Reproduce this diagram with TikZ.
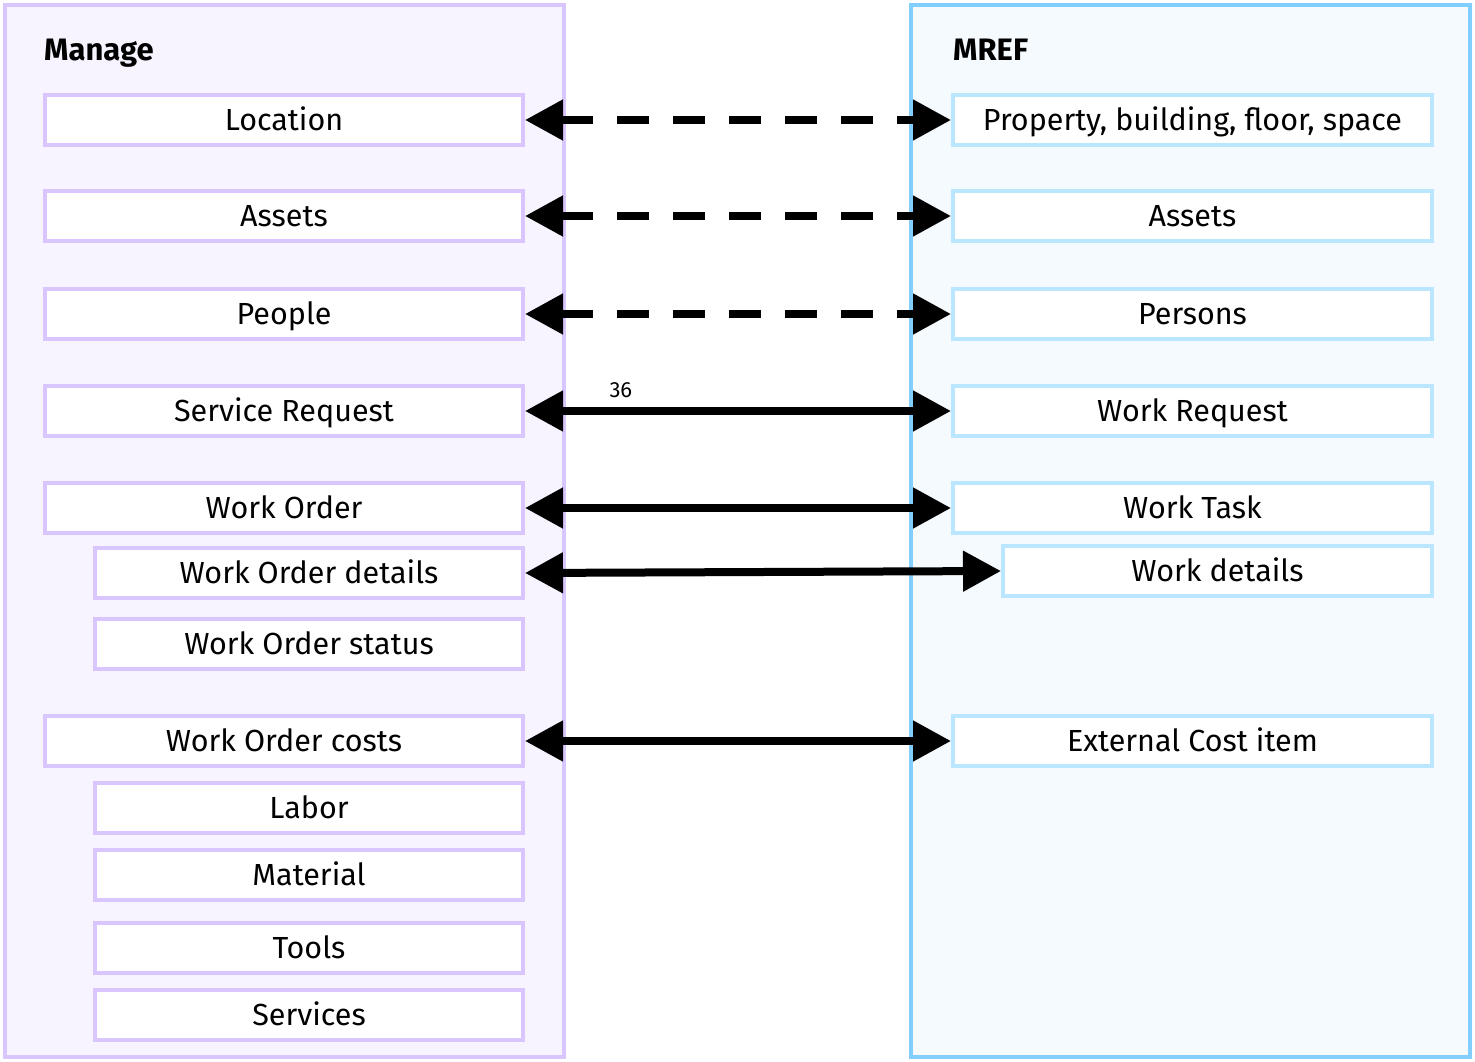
\documentclass[tikz,border=0pt]{standalone}
\usepackage{fontspec}
\setmainfont{Fira Sans}
\usetikzlibrary{arrows.meta}
\definecolor{mgline}{RGB}{218,198,255}
\definecolor{mgfill}{HTML}{F7F3FF}
\definecolor{mrline}{HTML}{82CFFF}
\definecolor{mrbox}{HTML}{BAE6FF}
\definecolor{mrfill}{HTML}{F5FAFF}
\tikzset{
  mbox/.style={draw=mgline,fill=white,line width=4pt,minimum height=50pt,inner sep=0pt,text height=21pt,text depth=0pt,font=\fontsize{30.5}{36}\selectfont},
  rbox/.style={mbox,draw=mrbox},
  link/.style={line width=8pt,{Triangle[length=38pt,width=39pt]}-{Triangle[length=38pt,width=39pt]}},
  dlink/.style={link,dash pattern=on 32pt off 24pt}
}
\begin{document}
\begin{tikzpicture}[x=1pt,y=-1pt]
                \useasboundingbox (0,0) rectangle (1475,1062);
                % panels
                \draw[draw=mgline,fill=mgfill,line width=4pt] (5,5) rectangle (564,1057);
                \draw[draw=mrline,fill=mrfill,line width=4pt] (911,5) rectangle (1470,1057);
                \node[anchor=base west,inner sep=0pt,font=\bfseries\fontsize{31}{36}\selectfont] (manage) at (44,61) {Manage};
                \node[anchor=base west,inner sep=0pt,font=\bfseries\fontsize{31}{36}\selectfont] (mref) at (953,61) {MREF};
                % Manage side
                \node[mbox,minimum width=478pt] (loc) at (284,120) {Location};
                \node[mbox,minimum width=478pt] (assets) at (284,216) {Assets};
                \node[mbox,minimum width=478pt] (people) at (284,314) {People};
                \node[mbox,minimum width=478pt] (sreq) at (284,411) {Service Request};
                \node[mbox,minimum width=478pt] (wo) at (284,508) {Work Order};
                \node[mbox,minimum width=428pt] (wod) at (309,573) {Work Order details};
                \node[mbox,minimum width=428pt] (wos) at (309,644) {Work Order status};
                \node[mbox,minimum width=478pt] (woc) at (284,741) {Work Order costs};
                \node[mbox,minimum width=428pt] (labor) at (309,808) {Labor};
                \node[mbox,minimum width=428pt] (material) at (309,875) {Material};
                \node[mbox,minimum width=428pt] (tools) at (309,948) {Tools};
                \node[mbox,minimum width=428pt] (services) at (309,1015) {Services};
                % MREF side
                \node[rbox,minimum width=479pt] (prop) at (1192.5,120) {Property, building, floor, space};
                \node[rbox,minimum width=479pt] (rassets) at (1192.5,216) {Assets};
                \node[rbox,minimum width=479pt] (persons) at (1192.5,314) {Persons};
                \node[rbox,minimum width=479pt] (wreq) at (1192.5,411) {Work Request};
                \node[rbox,minimum width=479pt] (wtask) at (1192.5,508) {Work Task};
                \node[rbox,minimum width=429pt] (wdet) at (1217.5,571) {Work details};
                \node[rbox,minimum width=479pt] (extcost) at (1192.5,741) {External Cost item};
                % links
                \draw[dlink] (loc.east) -- (prop.west);
                \draw[dlink] (assets.east) -- (rassets.west);
                \draw[dlink] (people.east) -- (persons.west);
                \draw[link] (sreq.east) -- (wreq.west) node[pos=0.225,above=6pt,font=\fontsize{22}{26}\selectfont] (n36) {36};
                \draw[link] (wo.east) -- (wtask.west);
                \draw[link] (wod.east) -- (wdet.west);
                \draw[link] (woc.east) -- (extcost.west);
            \end{tikzpicture}
\end{document}
